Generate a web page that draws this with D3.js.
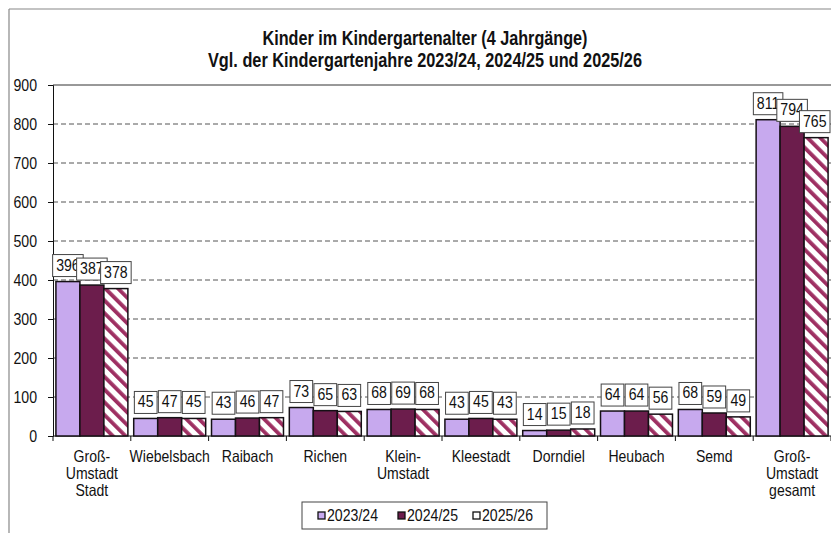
<!DOCTYPE html>
<html>
<head>
<meta charset="utf-8">
<script src="https://cdn.jsdelivr.net/npm/d3@7"></script>
<style>
  body { margin: 0; background: #fff; }
  svg { display: block; font-family: "Liberation Sans", Arial, sans-serif; }
</style>
</head>
<body>
<div id="chart"></div>
<script>
// categories (line breaks with |)
var categories = ["Groß-|Umstadt|Stadt", "Wiebelsbach", "Raibach", "Richen", "Klein-|Umstadt",
                  "Kleestadt", "Dorndiel", "Heubach", "Semd", "Groß-|Umstadt|gesamt"];
var seriesNames = ["2023/24", "2024/25", "2025/26"];
var values2023 = [396, 45, 43, 73, 68, 43, 14, 64, 68, 811];
var values2024 = [387, 47, 46, 65, 69, 45, 15, 64, 59, 794];
var values2025 = [378, 45, 47, 63, 68, 43, 18, 56, 49, 765];
var yTicks = [0, 100, 200, 300, 400, 500, 600, 700, 800, 900];
var titleLines = ["Kinder im Kindergartenalter (4 Jahrgänge)",
                  "Vgl. der Kindergartenjahre 2023/24, 2024/25 und 2025/26"];

var W = 831, H = 533;
var margin = {top: 85, right: 0, bottom: 97, left: 53};
var NARROW = 0.83;   // squeeze Arial-like glyphs to look like Arial Narrow

// squeeze a text element horizontally
function narrow(sel, k) {
  sel.each(function() {
    var len = this.getComputedTextLength();
    d3.select(this).attr("textLength", len * k).attr("lengthAdjust", "spacingAndGlyphs");
  });
}

var svg = d3.select("#chart").append("svg")
    .attr("width", W)
    .attr("height", H);

// stripes for 2025/26
var defs = svg.append("defs");
var pat = defs.append("pattern")
    .attr("id", "stripes")
    .attr("patternUnits", "userSpaceOnUse")
    .attr("width", 9).attr("height", 9)
    .attr("patternTransform", "rotate(-45)");
pat.append("rect").attr("width", 9).attr("height", 9).attr("fill", "#fff");
pat.append("rect").attr("width", 3.8).attr("height", 9).attr("fill", "#9e2f62");

var fills = ["#c7a9ee", "#6c1d4c", "url(#stripes)"];

// outer frame
svg.append("line").attr("x1", 9).attr("x2", W).attr("y1", 9).attr("y2", 9)
    .attr("stroke", "#888").attr("stroke-width", 1.2);
svg.append("line").attr("x1", 9).attr("x2", 9).attr("y1", 9).attr("y2", H)
    .attr("stroke", "#888").attr("stroke-width", 1.2);

// title
var titleW = [325, 434];
svg.append("g").selectAll("text")
  .data(titleLines)
  .join("text")
    .attr("x", 425)
    .attr("y", function(d, i) { return 45 + i * 21.5; })
    .attr("text-anchor", "middle")
    .attr("font-weight", "bold")
    .attr("font-size", 19.5)
    .attr("fill", "#111")
    .attr("textLength", function(d, i) { return titleW[i]; })
    .attr("lengthAdjust", "spacingAndGlyphs")
    .text(function(d) { return d; });

var x0 = d3.scaleBand()
    .domain(categories)
    .range([margin.left, W - margin.right])
    .paddingInner(0.075)
    .paddingOuter(0.0375);
var x1 = d3.scaleBand()
    .domain(seriesNames)
    .range([0, x0.bandwidth()]);
var y = d3.scaleLinear()
    .domain([0, 900])
    .range([H - margin.bottom, margin.top]);

// gridlines
svg.append("g").selectAll("line")
  .data(yTicks.filter(function(d) { return d > 0; }))
  .join("line")
    .attr("x1", margin.left).attr("x2", W)
    .attr("y1", function(d) { return y(d); })
    .attr("y2", function(d) { return y(d); })
    .attr("stroke", function(d) { return d === 900 ? "#333" : "#555"; })
    .attr("stroke-width", 1)
    .attr("stroke-dasharray", function(d) { return d === 900 ? null : "5,3"; });

// y axis
var yAxis = svg.append("g")
    .attr("transform", "translate(" + margin.left + ",0)")
    .call(d3.axisLeft(y).tickValues(yTicks).tickSize(5).tickPadding(11));
yAxis.select(".domain").attr("stroke", "#111");
yAxis.selectAll(".tick line").attr("stroke", "#111");
yAxis.selectAll(".tick text").attr("font-size", 17).attr("fill", "#111")
    .attr("font-family", "Liberation Sans, Arial, sans-serif")
    .call(narrow, NARROW);

// x axis baseline + ticks at band boundaries
svg.append("line")
    .attr("x1", margin.left).attr("x2", W)
    .attr("y1", y(0)).attr("y2", y(0))
    .attr("stroke", "#111");
var step = x0.step();
svg.append("g").selectAll("line")
  .data(d3.range(categories.length + 1))
  .join("line")
    .attr("x1", function(i) { return margin.left + i * step; })
    .attr("x2", function(i) { return margin.left + i * step; })
    .attr("y1", y(0)).attr("y2", y(0) + 5)
    .attr("stroke", "#111");

// x labels, one text per line
var xLines = [];
categories.forEach(function(c) {
  c.split("|").forEach(function(part, i) { xLines.push({cat: c, line: i, txt: part}); });
});
svg.append("g").selectAll("text")
  .data(xLines)
  .join("text")
    .attr("x", function(d) { return x0(d.cat) + x0.bandwidth() / 2; })
    .attr("y", function(d) { return 462 + d.line * 17; })
    .attr("text-anchor", "middle")
    .attr("font-size", 16.5)
    .attr("fill", "#111")
    .text(function(d) { return d.txt; })
    .call(narrow, 0.85);

// bars
var table = categories.map(function(c, i) {
  return {cat: c, vals: [values2023[i], values2024[i], values2025[i]]};
});
var groups = svg.append("g").selectAll("g")
  .data(table)
  .join("g")
    .attr("transform", function(d) { return "translate(" + x0(d.cat) + ",0)"; });
groups.selectAll("rect")
  .data(function(d) { return d.vals.map(function(v, j) { return {s: seriesNames[j], v: v, j: j}; }); })
  .join("rect")
    .attr("x", function(d) { return x1(d.s); })
    .attr("y", function(d) { return y(d.v); })
    .attr("width", x1.bandwidth())
    .attr("height", function(d) { return y(0) - y(d.v); })
    .attr("fill", function(d) { return fills[d.j]; })
    .attr("stroke", "#151015")
    .attr("stroke-width", 1.5);

// value labels in boxes
var labels = svg.append("g");
table.forEach(function(d) {
  d.vals.forEach(function(v, j) {
    var cx = x0(d.cat) + x1(seriesNames[j]) + x1.bandwidth() / 2;
    var g = labels.append("g");
    var txt = g.append("text")
        .attr("y", y(v) - 11)
        .attr("text-anchor", "middle")
        .attr("font-size", 17)
        .attr("fill", "#111")
        .text(v);
    var w = txt.node().getComputedTextLength() * NARROW + 7;
    // keep the box inside the picture
    cx = Math.min(cx, W - 1 - w / 2);
    txt.attr("x", cx).call(narrow, NARROW);
    g.insert("rect", "text")
        .attr("x", cx - w / 2)
        .attr("y", y(v) - 27)
        .attr("width", w)
        .attr("height", 22)
        .attr("fill", "#fff")
        .attr("stroke", "#444")
        .attr("stroke-width", 1);
  });
});

// legend
var lg = svg.append("g");
lg.append("rect")
    .attr("x", 302).attr("y", 502)
    .attr("width", 245).attr("height", 27)
    .attr("fill", "#fff").attr("stroke", "#444");
var legX = [318, 398, 473];
seriesNames.forEach(function(s, i) {
  lg.append("rect")
      .attr("x", legX[i]).attr("y", 512)
      .attr("width", 7).attr("height", 7)
      .attr("fill", i === 2 ? "#fff" : fills[i])
      .attr("stroke", "#111").attr("stroke-width", 1.3);
  lg.append("text")
      .attr("x", legX[i] + 9).attr("y", 521)
      .attr("font-size", 17)
      .attr("fill", "#111")
      .text(s)
      .call(narrow, NARROW);
});
</script>
</body>
</html>
